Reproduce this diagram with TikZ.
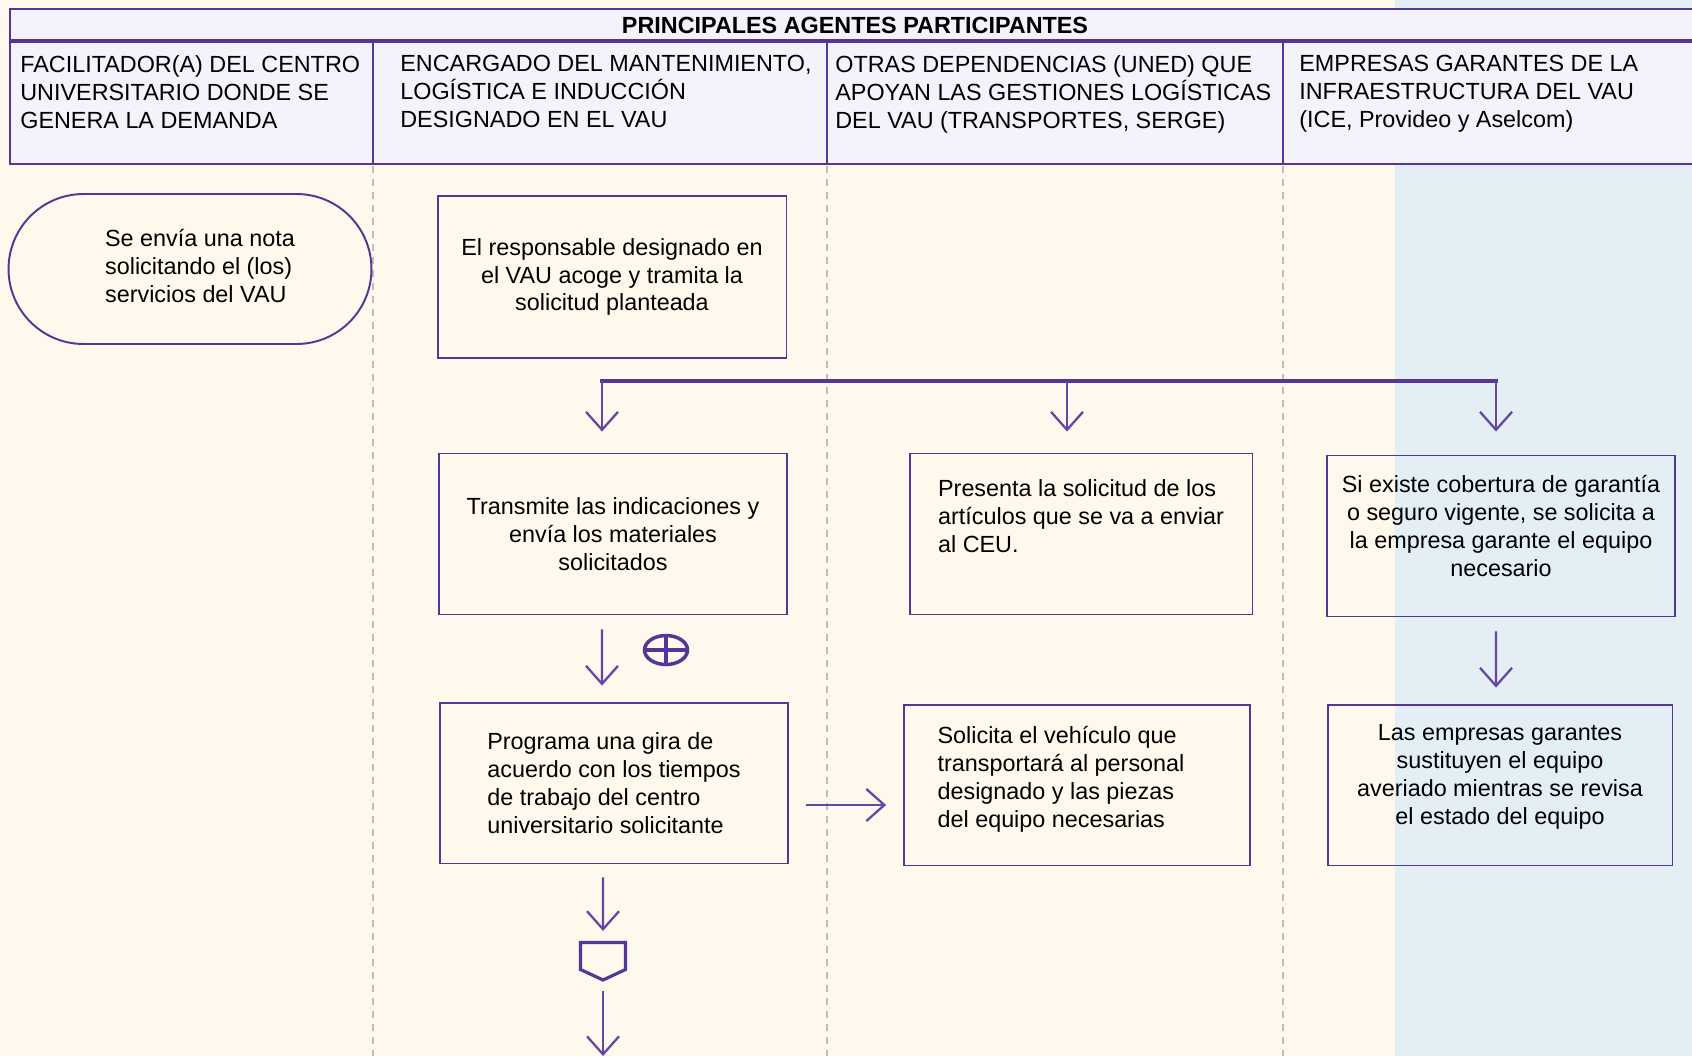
\documentclass[tikz,border=0pt]{standalone}
\usepackage{fontspec}
\setmainfont{Liberation Sans}
\usepackage{tikz}
\usetikzlibrary{arrows.meta,shapes.geometric,shapes.symbols}

\definecolor{lanebg}{HTML}{FFF8EC}
\definecolor{bluebg}{HTML}{E4EFF5}
\definecolor{headbg}{HTML}{F4F2FA}
\definecolor{vio}{HTML}{553596}
\definecolor{arrowvio}{HTML}{6645A5}
\definecolor{dashgrey}{HTML}{BDBDBD}
\newcommand\bodyfont{\fontsize{13.3}{15.9}\selectfont}

\begin{document}
\begin{tikzpicture}[x=0.02cm,y=-0.02cm,
    box/.style={draw=vio,line width=1.1pt,minimum width=6.95cm,minimum height=3.22cm,inner sep=2pt,font=\bodyfont},
    flow/.style={draw=arrowvio,line width=1.3pt,-{Straight Barb[length=0.36cm,width=0.64cm]}},
    lane/.style={dashgrey,line width=1.1pt,dash pattern=on 0.14cm off 0.12cm},
    headtxt/.style={anchor=north west,align=left,font=\bodyfont,inner sep=0pt}]

    \useasboundingbox (0,0) rectangle (1692,1056);
    \fill[lanebg] (0,0) rectangle (1395,1056);
    \fill[bluebg] (1395,0) rectangle (1692,1056);

    \filldraw[fill=headbg,draw=vio,line width=1.1pt] (10,9) rectangle (1710,164);
    \draw[vio,line width=2.2pt] (10,41) -- (1710,41);
    \draw[vio,line width=1.6pt] (10,164) -- (1710,164);
    \foreach \x in {373,827,1283} \draw[vio,line width=1.1pt] (\x,41) -- (\x,164);
    \foreach \x in {373,827,1283} \draw[lane] (\x,166) -- (\x,1056);

    \node[font=\bfseries\bodyfont] (title) at (855,25) {PRINCIPALES AGENTES PARTICIPANTES};
    \node[headtxt] (h1) at (20,55) {FACILITADOR(A) DEL CENTRO\\UNIVERSITARIO DONDE SE\\GENERA LA DEMANDA};
    \node[headtxt] (h2) at (400,55) {ENCARGADO DEL MANTENIMIENTO,\\LOGÍSTICA E INDUCCIÓN\\DESIGNADO EN EL VAU};
    \node[headtxt] (h3) at (835,55) {OTRAS DEPENDENCIAS (UNED) QUE\\APOYAN LAS GESTIONES LOGÍSTICAS\\DEL VAU (TRANSPORTES, SERGE)};
    \node[headtxt] (h4) at (1299,55) {EMPRESAS GARANTES DE LA\\INFRAESTRUCTURA DEL VAU\\(ICE, Provideo y Aselcom)};

    \node[box,rounded corners=1.5cm,minimum width=7.26cm,minimum height=3cm] (request) at (190,269)
        {\begin{tabular}{@{\hspace{0.4cm}}l@{}}Se envía una nota\\solicitando el (los)\\servicios del VAU\end{tabular}};
    \node[box,align=center,minimum width=6.98cm,minimum height=3.24cm] (accept) at (612,277) {El responsable designado en\\el VAU acoge y tramita la\\solicitud planteada};
    \node[box,align=center] (transmit) at (613,534) {Transmite las indicaciones y\\envía los materiales\\solicitados};
    \node[box,align=left,minimum width=6.86cm] (present) at (1081,534) {Presenta la solicitud de los\\artículos que se va a enviar\\al CEU.\\\strut};
    \node[box,align=center] (cover) at (1501,536) {Si existe cobertura de garantía\\o seguro vigente, se solicita a\\la empresa garante el equipo\\necesario\\[-4pt]\mbox{}};
    \node[box,align=left] (tour) at (614,783) {Programa una gira de\\acuerdo con los tiempos\\de trabajo del centro\\universitario solicitante};
    \node[box,minimum width=6.92cm] (vehicle) at (1077,785)
        {\begin{tabular}{@{}l@{\hspace{0.64cm}}}Solicita el vehículo que\\transportará al personal\\designado y las piezas\\del equipo necesarias\\[6pt]\end{tabular}};
    \node[box,align=center,minimum width=6.9cm] (replace) at (1500,785) {Las empresas garantes\\sustituyen el equipo\\averiado mientras se revisa\\el estado del equipo\\[-4pt]\mbox{}};

    \node[draw=vio,line width=2pt,ellipse,minimum width=0.86cm,minimum height=0.58cm,inner sep=0pt,
          path picture={\draw[vio,line width=2pt] (path picture bounding box.west) -- (path picture bounding box.east)
                        (path picture bounding box.north) -- (path picture bounding box.south);}] (orsym) at (666,650) {};
    \node[draw=vio,line width=1.8pt,signal,signal to=south,signal from=nowhere,signal pointer angle=130,
          minimum width=0.9cm,minimum height=0.54cm,inner sep=0pt] (offpage) at (603,956) {};

    \coordinate (brL) at (602,381);
    \coordinate (brM) at (1067,381);
    \coordinate (brR) at (1496,381);
    \coordinate (pgout) at (603,1056);

    \draw[vio,line width=2pt,line cap=rect] (brL) -- (brR);
    \draw[flow,shorten >=0.42cm] (brL) -- (brL |- transmit.north);
    \draw[flow,shorten >=0.42cm] (brM) -- (brM |- present.north);
    \draw[flow,shorten >=0.46cm] (brR) -- (brR |- cover.north);
    \draw[flow,shorten <=0.28cm,shorten >=0.32cm] ([xshift=-0.22cm]transmit.south) -- ([xshift=-0.24cm]tour.north);
    \draw[flow,shorten <=0.34cm,shorten >=0.34cm] ([yshift=-0.44cm]tour.east) -- ([yshift=-0.44cm]tour.east -| vehicle.west);
    \draw[flow,shorten <=0.26cm,shorten >=0.2cm] ([xshift=-0.22cm]tour.south) -- (offpage.north);
    \draw[flow,shorten <=0.18cm] (offpage.south) -- (pgout);
    \draw[flow,shorten <=0.28cm,shorten >=0.32cm] ([xshift=-0.1cm]cover.south) -- ([xshift=-0.08cm]replace.north);

\end{tikzpicture}
\end{document}
